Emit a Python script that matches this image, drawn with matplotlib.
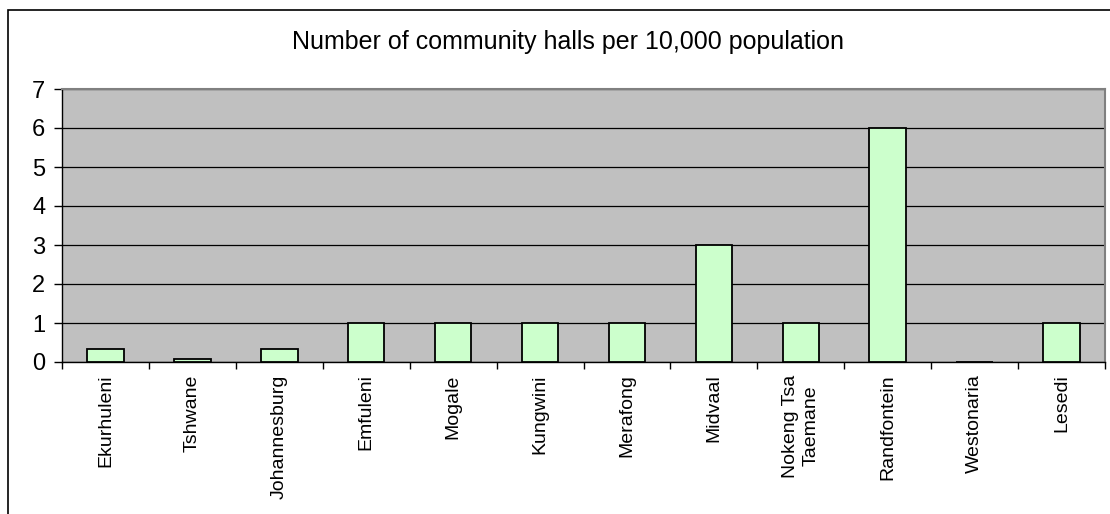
import matplotlib
matplotlib.use("Agg")
import matplotlib.pyplot as plt
from matplotlib.patches import Rectangle
import numpy as np

plt.rcParams['font.family'] = ['Liberation Sans', 'DejaVu Sans']

municipalities = ["Ekurhuleni", "Tshwane", "Johannesburg", "Emfuleni", "Mogale",
                  "Kungwini", "Merafong", "Midvaal", "Nokeng Tsa\nTaemane",
                  "Randfontein", "Westonaria", "Lesedi"]
halls_per_10k = [0.33, 0.08, 0.33, 1, 1, 1, 1, 3, 1, 6, 0, 1]
y_ticks = [0, 1, 2, 3, 4, 5, 6, 7]

W, H = 1110, 514
fig = plt.figure(figsize=(W / 100, H / 100), dpi=100)

# outer chart frame (left and top edges visible)
fig.patches.append(Rectangle((8 / W, -0.05), 1.2, 1 - 10 / H + 0.05,
                             transform=fig.transFigure, fill=False,
                             edgecolor="black", linewidth=1.2, zorder=0))

left, right, top, bottom = 62, 1105, 89, 362
ax = fig.add_axes([left / W, 1 - bottom / H, (right - left) / W, (bottom - top) / H])
ax.set_facecolor("#C0C0C0")

x = np.arange(len(municipalities))
ax.bar(x, halls_per_10k, width=0.42, color="#CCFFCC", edgecolor="black",
       linewidth=1.3, zorder=3)

ax.set_xlim(-0.5, len(municipalities) - 0.5)
ax.set_ylim(0, 7)
ax.set_yticks(y_ticks)
ax.yaxis.grid(True, color="black", linewidth=0.9, zorder=1)
ax.set_axisbelow(True)
ax.tick_params(axis="y", labelsize=17, length=6, width=1, direction="out", pad=6)

# category ticks on boundaries, labels centred under bars
ax.set_xticks(np.arange(len(municipalities) + 1) - 0.5)
ax.set_xticklabels([])
ax.set_xticks(x, minor=True)
ax.set_xticklabels(municipalities, minor=True, rotation=90, fontsize=14,
                   ha="center", va="top", multialignment="center",
                   linespacing=1.3)
ax.tick_params(axis="x", which="major", length=5, width=1, direction="out")
ax.tick_params(axis="x", which="minor", length=0, pad=9)

for s in ["top", "right"]:
    ax.spines[s].set_color("#808080")
    ax.spines[s].set_linewidth(1.5)
for s in ["left", "bottom"]:
    ax.spines[s].set_color("black")
    ax.spines[s].set_linewidth(1)

fig.text(568 / W, 1 - 42 / H,
         "Number of community halls per 10,000 population",
         ha="center", va="center", fontsize=18)

fig.savefig("out.png", dpi=100, facecolor="white")
